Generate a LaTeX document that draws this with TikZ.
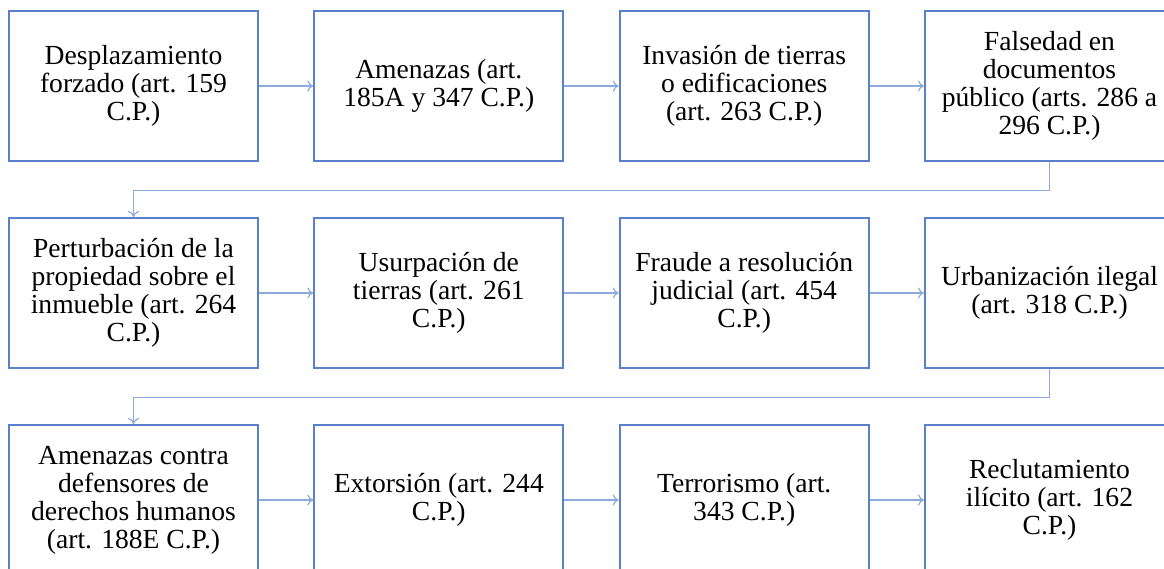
\documentclass[tikz,border=0pt]{standalone}
\usepackage{fontspec}
\setmainfont{Liberation Serif}
\usetikzlibrary{arrows.meta}
\definecolor{boxblue}{HTML}{5B80CB}
\definecolor{lineblue}{HTML}{8EA9DB}
\begin{document}
\begin{tikzpicture}[x=1pt,y=1pt,
  crbox/.style={draw=boxblue, line width=2pt, fill=white, minimum width=249pt, minimum height=150pt,
    inner sep=0pt, align=center, text=black, font=\fontsize{27.6}{28}\selectfont},
  conn/.style={draw=lineblue, line width=1.2pt, -{To[length=6pt,width=11pt]}}]
\useasboundingbox (0,0) rectangle (1164,568);
\fill[white] (0,0) rectangle (1164,568);
% row 1
\node[crbox] (b1) at (133.5,482) {Desplazamiento\\forzado (art. 159\\C.P.)};
\node[crbox] (b2) at (438.8,482) {Amenazas (art.\\185A y 347 C.P.)};
\node[crbox] (b3) at (744.2,482) {Invasión de tierras\\o edificaciones\\(art. 263 C.P.)};
\node[crbox] (b4) at (1049.5,482) {Falsedad en\\documentos\\público (arts. 286 a\\296 C.P.)};
% row 2
\node[crbox] (b5) at (133.5,275) {Perturbación de la\\propiedad sobre el\\inmueble (art. 264\\C.P.)};
\node[crbox] (b6) at (438.8,275) {Usurpación de\\tierras (art. 261\\C.P.)};
\node[crbox] (b7) at (744.2,275) {Fraude a resolución\\judicial (art. 454\\C.P.)};
\node[crbox] (b8) at (1049.5,275) {Urbanización ilegal\\(art. 318 C.P.)};
% row 3
\node[crbox] (b9) at (133.5,68) {Amenazas contra\\defensores de\\derechos humanos\\(art. 188E C.P.)};
\node[crbox] (b10) at (438.8,68) {Extorsión (art. 244\\C.P.)};
\node[crbox] (b11) at (744.2,68) {Terrorismo (art.\\343 C.P.)};
\node[crbox] (b12) at (1049.5,68) {Reclutamiento\\ilícito (art. 162\\C.P.)};
% connectors
\draw[conn] (b1) -- (b2);
\draw[conn] (b2) -- (b3);
\draw[conn] (b3) -- (b4);
\draw[conn] (b4.south) -- ++(0,-28.5) -| (b5.north);
\draw[conn] (b5) -- (b6);
\draw[conn] (b6) -- (b7);
\draw[conn] (b7) -- (b8);
\draw[conn] (b8.south) -- ++(0,-28.5) -| (b9.north);
\draw[conn] (b9) -- (b10);
\draw[conn] (b10) -- (b11);
\draw[conn] (b11) -- (b12);
\end{tikzpicture}
\end{document}
